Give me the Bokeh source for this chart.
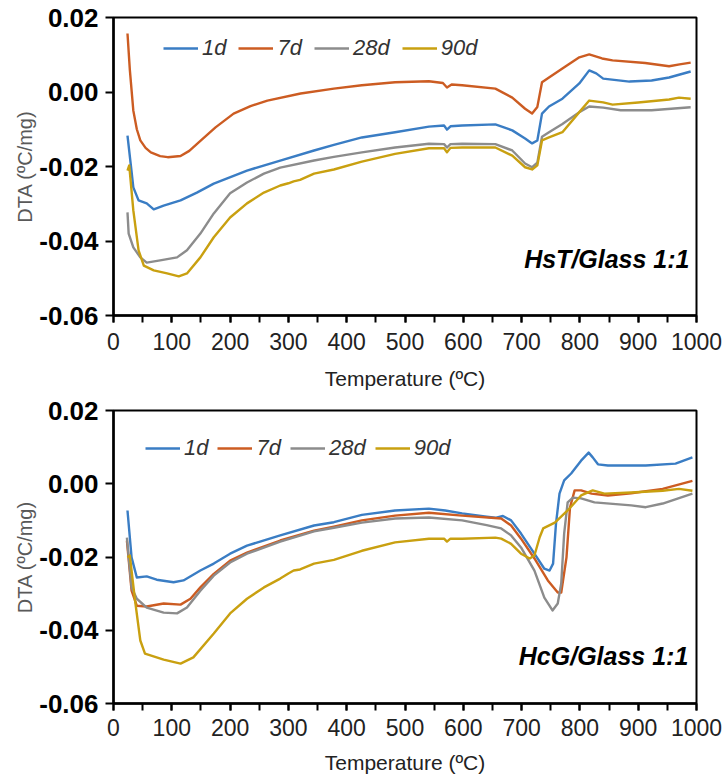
from bokeh.plotting import figure
from bokeh.models import (Legend, LegendItem, Label, FixedTicker, SingleIntervalTicker,
                          NumeralTickFormatter, Range1d)
from bokeh.layouts import column
from bokeh.embed import file_html
from bokeh.resources import INLINE

# ---------------- data ----------------
series_names = ["1d", "7d", "28d", "90d"]
series_colors = ["#3a7dc4", "#cc5c22", "#8c8c8c", "#c9a010"]
x_ticks_major = 100
y_ticks = [-0.06, -0.04, -0.02, 0.0, 0.02]

# HsT/Glass 1:1
hst_1d_T = [24, 30, 34, 43, 57, 69, 86, 115, 143, 172, 229, 286, 344, 378, 426, 483, 541, 567, 572, 578, 598, 655, 684, 706, 718, 727, 735, 747, 770, 799, 816, 828, 840, 885, 923, 953, 990]
hst_1d_v = [-0.0117, -0.020, -0.0256, -0.0291, -0.0299, -0.0315, -0.0305, -0.0291, -0.027, -0.0246, -0.0211, -0.0184, -0.0157, -0.0142, -0.0122, -0.0108, -0.0093, -0.009, -0.0101, -0.0092, -0.009, -0.0087, -0.0103, -0.0125, -0.0138, -0.013, -0.0058, -0.0039, -0.0018, 0.0023, 0.0058, 0.005, 0.0036, 0.0028, 0.0031, 0.0039, 0.0055]

hst_7d_T = [24, 28, 34, 40, 46, 55, 64, 80, 93, 115, 130, 150, 175, 206, 235, 264, 321, 378, 426, 483, 541, 565, 572, 580, 598, 655, 684, 706, 718, 727, 735, 747, 770, 799, 816, 838, 856, 912, 953, 971, 990]
hst_7d_v = [0.0157, 0.006, -0.005, -0.010, -0.013, -0.015, -0.0162, -0.0172, -0.0175, -0.0172, -0.0158, -0.013, -0.0095, -0.0058, -0.0038, -0.0023, -0.0004, 0.0009, 0.0018, 0.0026, 0.0029, 0.0024, 0.0012, 0.002, 0.0018, 0.0009, -0.0015, -0.0045, -0.0058, -0.004, 0.0026, 0.0039, 0.0063, 0.0093, 0.0101, 0.0090, 0.0085, 0.0078, 0.0069, 0.0074, 0.0079]

hst_28d_T = [24, 26, 34, 46, 57, 80, 109, 126, 149, 172, 200, 229, 258, 286, 344, 378, 426, 483, 541, 567, 572, 578, 598, 655, 684, 706, 718, 727, 735, 747, 770, 799, 816, 840, 870, 923, 990]
hst_28d_v = [-0.0323, -0.038, -0.0417, -0.0444, -0.0458, -0.0452, -0.0444, -0.0425, -0.038, -0.0326, -0.0272, -0.0243, -0.0219, -0.0203, -0.0184, -0.0174, -0.0162, -0.0149, -0.0139, -0.014, -0.0149, -0.014, -0.0139, -0.014, -0.0157, -0.0192, -0.0202, -0.019, -0.012, -0.0108, -0.0086, -0.0054, -0.0039, -0.0042, -0.0049, -0.0049, -0.0041]

hst_90d_T = [24, 27, 34, 43, 52, 69, 92, 112, 126, 149, 172, 200, 229, 258, 286, 300, 309, 320, 344, 378, 426, 483, 541, 567, 572, 578, 598, 655, 684, 706, 718, 727, 735, 747, 770, 799, 816, 840, 856, 900, 953, 970, 990]
hst_90d_v = [-0.0211, -0.0197, -0.0318, -0.0425, -0.0466, -0.0479, -0.0487, -0.0495, -0.0487, -0.0444, -0.039, -0.0337, -0.0299, -0.027, -0.0251, -0.0245, -0.0240, -0.0236, -0.0219, -0.0208, -0.0187, -0.0166, -0.0151, -0.0151, -0.0162, -0.015, -0.0149, -0.0149, -0.0171, -0.0202, -0.0208, -0.0197, -0.013, -0.0122, -0.0108, -0.0054, -0.0023, -0.0028, -0.0034, -0.0028, -0.002, -0.0015, -0.0018]

# HcG/Glass 1:1
hcg_1d_T = [24, 31, 40, 57, 74, 103, 120, 149, 172, 200, 229, 286, 344, 378, 426, 483, 541, 569, 598, 640, 655, 668, 682, 699, 722, 739, 748, 754, 759, 765, 773, 785, 802, 815, 822, 831, 848, 888, 913, 964, 993]
hcg_1d_v = [-0.0073, -0.0201, -0.0256, -0.0253, -0.0262, -0.0269, -0.0264, -0.0237, -0.0218, -0.0191, -0.0169, -0.0141, -0.0114, -0.0105, -0.0085, -0.0073, -0.0068, -0.0073, -0.0081, -0.009, -0.0093, -0.0088, -0.0100, -0.0136, -0.0191, -0.0232, -0.0237, -0.0218, -0.0109, -0.0027, 0.0009, 0.0028, 0.0063, 0.0085, 0.0072, 0.0053, 0.005, 0.005, 0.005, 0.0055, 0.0072]

hcg_7d_T = [23, 31, 40, 57, 86, 115, 132, 149, 172, 200, 229, 286, 344, 378, 426, 483, 541, 598, 665, 682, 699, 722, 745, 762, 768, 777, 783, 791, 802, 820, 848, 888, 942, 993]
hcg_7d_v = [-0.0155, -0.0292, -0.0333, -0.0335, -0.0327, -0.033, -0.0314, -0.0283, -0.0246, -0.021, -0.0188, -0.0155, -0.0128, -0.0117, -0.010, -0.0087, -0.0079, -0.0087, -0.0095, -0.0114, -0.015, -0.0204, -0.0264, -0.0297, -0.0297, -0.0201, -0.0065, -0.0018, -0.0018, -0.0027, -0.0032, -0.0026, -0.0014, 0.0008]

hcg_28d_T = [23, 31, 40, 57, 86, 109, 126, 149, 172, 200, 229, 286, 344, 378, 426, 483, 541, 598, 640, 665, 682, 699, 722, 739, 753, 762, 768, 773, 779, 788, 802, 825, 888, 913, 942, 993]
hcg_28d_v = [-0.0147, -0.0283, -0.0314, -0.0338, -0.0352, -0.0354, -0.0338, -0.0292, -0.0251, -0.0215, -0.0191, -0.0158, -0.013, -0.012, -0.0106, -0.0095, -0.0092, -0.010, -0.0113, -0.0122, -0.0141, -0.0174, -0.0237, -0.0311, -0.0346, -0.0327, -0.0272, -0.0136, -0.0051, -0.0038, -0.004, -0.0051, -0.0059, -0.0064, -0.0054, -0.0027]

hcg_90d_T = [24, 28, 37, 46, 54, 86, 115, 137, 172, 200, 229, 258, 286, 300, 309, 320, 344, 378, 426, 483, 541, 567, 572, 578, 598, 655, 665, 682, 699, 714, 722, 731, 737, 757, 779, 802, 822, 842, 888, 942, 970, 993]
hcg_90d_v = [-0.0201, -0.0196, -0.0319, -0.0428, -0.0464, -0.048, -0.0491, -0.0474, -0.0409, -0.0354, -0.0314, -0.0283, -0.0259, -0.0245, -0.0237, -0.0234, -0.0218, -0.0208, -0.0183, -0.016, -0.015, -0.015, -0.0158, -0.015, -0.015, -0.0147, -0.015, -0.0164, -0.0191, -0.0204, -0.0196, -0.0146, -0.0122, -0.0106, -0.0073, -0.0032, -0.0018, -0.0027, -0.0024, -0.0019, -0.0014, -0.0019]

hst_series = [(hst_1d_T, hst_1d_v), (hst_7d_T, hst_7d_v), (hst_28d_T, hst_28d_v), (hst_90d_T, hst_90d_v)]
hcg_series = [(hcg_1d_T, hcg_1d_v), (hcg_7d_T, hcg_7d_v), (hcg_28d_T, hcg_28d_v), (hcg_90d_T, hcg_90d_v)]

FONT = "Liberation Sans"


def make_fig(height, top, bottom, series, legend_xy, legend_spacing, label_text, label_xy,
             tick_standoff, label_standoff):
    p = figure(width=722, height=height, output_backend="svg", toolbar_location=None,
               x_range=Range1d(0, 1000), y_range=Range1d(-0.06, 0.02),
               min_border_left=113, min_border_right=26, min_border_top=top,
               min_border_bottom=bottom)
    p.xgrid.visible = False
    p.ygrid.visible = False
    p.outline_line_color = "black"
    p.outline_line_width = 2
    p.background_fill_color = "white"
    p.border_fill_color = "white"

    # x axis
    xa = p.xaxis[0]
    xa.ticker = SingleIntervalTicker(interval=x_ticks_major, num_minor_ticks=2)
    xa.axis_line_width = 2.5
    xa.axis_line_color = "black"
    xa.major_tick_line_width = 2
    xa.minor_tick_line_width = 2
    xa.major_tick_out = 7
    xa.major_tick_in = 0
    xa.minor_tick_out = 7
    xa.minor_tick_in = 0
    xa.major_label_text_font = FONT
    xa.major_label_text_font_size = "23px"
    xa.major_label_text_color = "#222222"
    xa.major_label_standoff = tick_standoff
    xa.axis_label = "Temperature (ºC)"
    xa.axis_label_text_font = FONT
    xa.axis_label_text_font_size = "21px"
    xa.axis_label_text_font_style = "normal"
    xa.axis_label_text_color = "#222222"
    xa.axis_label_standoff = label_standoff

    # y axis
    ya = p.yaxis[0]
    ya.ticker = FixedTicker(ticks=y_ticks)
    ya.formatter = NumeralTickFormatter(format="0.00")
    ya.axis_line_width = 2.5
    ya.axis_line_color = "black"
    ya.major_tick_line_width = 2
    ya.major_tick_out = 8
    ya.major_tick_in = 0
    ya.minor_tick_out = 0
    ya.minor_tick_in = 0
    ya.major_label_text_font = FONT
    ya.major_label_text_font_size = "26px"
    ya.major_label_text_font_style = "bold"
    ya.major_label_text_color = "black"
    ya.major_label_standoff = 7
    ya.axis_label = "DTA (ºC/mg)"
    ya.axis_label_text_font = FONT
    ya.axis_label_text_font_size = "20px"
    ya.axis_label_text_font_style = "normal"
    ya.axis_label_text_color = "#595959"
    ya.axis_label_standoff = 0

    items = []
    for (T, v), name, col in zip(series, series_names, series_colors):
        r = p.line(T, v, line_color=col, line_width=2.4, line_join="round")
        items.append(LegendItem(label=name, renderers=[r]))

    leg = Legend(items=items, orientation="horizontal", location=legend_xy,
                 border_line_color=None, background_fill_alpha=0,
                 padding=0, margin=0, spacing=legend_spacing, label_standoff=4,
                 glyph_width=35, glyph_height=20, label_height=20,
                 label_text_font=FONT, label_text_font_size="22px",
                 label_text_font_style="italic", label_text_color="#333333",
                 label_text_baseline="middle")
    p.add_layout(leg)

    lab = Label(x=label_xy[0], y=label_xy[1], text=label_text, text_align="right",
                text_baseline="middle", text_font=FONT, text_font_size="25px",
                text_font_style="bold italic", text_color="black")
    p.add_layout(lab)
    return p


p1 = make_fig(395, 17, 80, hst_series, (50, 254), 12, "HsT/Glass 1:1", (988, -0.0447), 10, 14)
p2 = make_fig(381, 15, 73, hcg_series, (32, 242), 9, "HcG/Glass 1:1", (986, -0.0469), 8, 12)

layout = column(p1, p2, spacing=0)
open("out.html", "w").write(file_html(layout, INLINE))
